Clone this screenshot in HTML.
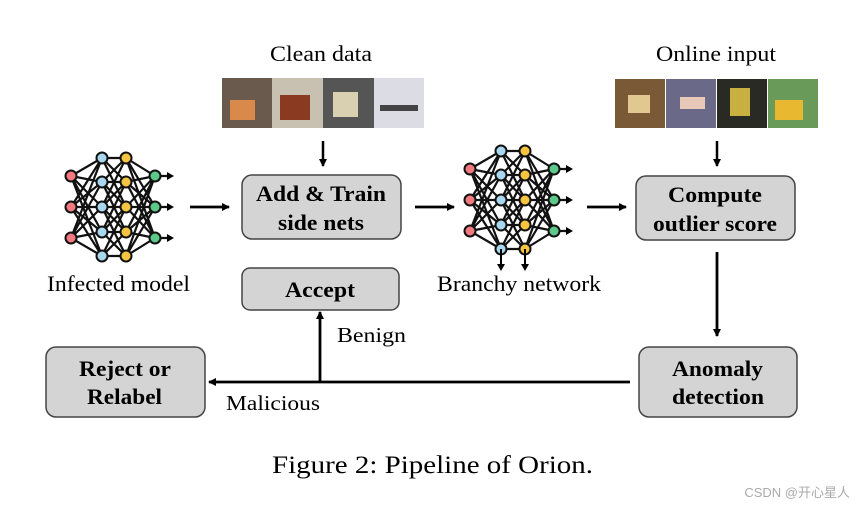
<!DOCTYPE html>
<html><head><meta charset="utf-8"><style>
body{margin:0;background:#fff;}
svg{display:block;font-family:"Liberation Serif",serif;}
</style></head><body>
<svg width="859" height="505" viewBox="0 0 859 505" xmlns="http://www.w3.org/2000/svg">
<defs>
<marker id="ah" markerWidth="8" markerHeight="8" refX="7" refY="4" orient="auto" markerUnits="userSpaceOnUse"><path d="M0,0 L8,4 L0,8 z" fill="#000"/></marker>
<g id="net">
<path stroke="#111" stroke-width="2.2" fill="none" d="
M0 -31L31 -49M0 -31L31 -25M0 -31L31 0M0 -31L31 25M0 -31L31 49
M0 0L31 -49M0 0L31 -25M0 0L31 0M0 0L31 25M0 0L31 49
M0 31L31 -49M0 31L31 -25M0 31L31 0M0 31L31 25M0 31L31 49
M31 -49L55 -49M31 -49L55 -25M31 -49L55 0
M31 -25L55 -49M31 -25L55 -25M31 -25L55 0M31 -25L55 25
M31 0L55 -49M31 0L55 -25M31 0L55 0M31 0L55 25M31 0L55 49
M31 25L55 -25M31 25L55 0M31 25L55 25M31 25L55 49
M31 49L55 0M31 49L55 25M31 49L55 49
M84 -31L55 -49M84 -31L55 -25M84 -31L55 0M84 -31L55 25M84 -31L55 49
M84 0L55 -49M84 0L55 -25M84 0L55 0M84 0L55 25M84 0L55 49
M84 31L55 -49M84 31L55 -25M84 31L55 0M84 31L55 25M84 31L55 49
M84 -31L98 -31M84 0L98 0M84 31L98 31"/>
<path fill="#000" d="M96 -35L103 -31L96 -27zM96 -4L103 0L96 4zM96 27L103 31L96 35z"/>
<g stroke="#111" stroke-width="2">
<circle cx="0" cy="-31" r="5.5" fill="#f27a80"/><circle cx="0" cy="0" r="5.5" fill="#f27a80"/><circle cx="0" cy="31" r="5.5" fill="#f27a80"/>
<circle cx="31" cy="-49" r="5.5" fill="#a9d8ee"/><circle cx="31" cy="-25" r="5.5" fill="#a9d8ee"/><circle cx="31" cy="0" r="5.5" fill="#a9d8ee"/><circle cx="31" cy="25" r="5.5" fill="#a9d8ee"/><circle cx="31" cy="49" r="5.5" fill="#a9d8ee"/>
<circle cx="55" cy="-49" r="5.5" fill="#f5c542"/><circle cx="55" cy="-25" r="5.5" fill="#f5c542"/><circle cx="55" cy="0" r="5.5" fill="#f5c542"/><circle cx="55" cy="25" r="5.5" fill="#f5c542"/><circle cx="55" cy="49" r="5.5" fill="#f5c542"/>
<circle cx="84" cy="-31" r="5.5" fill="#5cc98a"/><circle cx="84" cy="0" r="5.5" fill="#5cc98a"/><circle cx="84" cy="31" r="5.5" fill="#5cc98a"/>
</g>
</g>
</defs>

<text x="270" y="61" font-size="22" textLength="102" lengthAdjust="spacingAndGlyphs">Clean data</text>
<text x="656" y="61" font-size="22" textLength="120" lengthAdjust="spacingAndGlyphs">Online input</text>

<rect x="222" y="78" width="50" height="50" fill="#6a5a4e"/><rect x="230" y="100" width="25" height="20" fill="#d98a4a"/>
<rect x="272" y="78" width="51" height="50" fill="#c8c0b0"/><rect x="280" y="95" width="30" height="25" fill="#8a3a20"/>
<rect x="323" y="78" width="51" height="50" fill="#555"/><rect x="333" y="92" width="25" height="25" fill="#d8d0b0"/>
<rect x="374" y="78" width="50" height="50" fill="#dcdce4"/><rect x="380" y="105" width="38" height="6" fill="#444"/>
<rect x="615" y="79" width="50" height="49" fill="#7a5a36"/><rect x="628" y="95" width="22" height="18" fill="#e0c890"/>
<rect x="666" y="79" width="50" height="49" fill="#6a6a88"/><rect x="680" y="97" width="25" height="12" fill="#e8c8b8"/>
<rect x="717" y="79" width="50" height="49" fill="#2a2a24"/><rect x="730" y="88" width="20" height="28" fill="#c8b040"/>
<rect x="768" y="79" width="50" height="49" fill="#6a9a5a"/><rect x="775" y="100" width="28" height="20" fill="#e8b830"/>

<line x1="323" y1="141" x2="323" y2="166" stroke="#000" stroke-width="2.5" marker-end="url(#ah)"/>
<line x1="717" y1="141" x2="717" y2="166" stroke="#000" stroke-width="2.5" marker-end="url(#ah)"/>

<use href="#net" x="71" y="207"/>
<use href="#net" x="470" y="200"/>
<path d="M501 249V266M525 249V266" stroke="#000" stroke-width="2"/>
<path fill="#000" d="M497 264L501 271L505 264zM521 264L525 271L529 264z"/>

<text x="47" y="291" font-size="22" textLength="143" lengthAdjust="spacingAndGlyphs">Infected model</text>
<text x="437" y="291" font-size="22" textLength="164" lengthAdjust="spacingAndGlyphs">Branchy network</text>

<g stroke="#000" stroke-width="2.8" fill="none">
<line x1="190" y1="207" x2="229" y2="207" marker-end="url(#ah)"/>
<line x1="415" y1="207" x2="454" y2="207" marker-end="url(#ah)"/>
<line x1="587" y1="207" x2="626" y2="207" marker-end="url(#ah)"/>
<line x1="717" y1="252" x2="717" y2="336" marker-end="url(#ah)"/>
<line x1="630" y1="382" x2="209" y2="382" marker-end="url(#ah)"/>
<line x1="320" y1="382" x2="320" y2="312" marker-end="url(#ah)"/>
</g>

<g fill="#d4d4d4" stroke="#444" stroke-width="1.5">
<rect x="242" y="175" width="159" height="64" rx="10"/>
<rect x="636" y="176" width="159" height="64" rx="10"/>
<rect x="242" y="268" width="157" height="42" rx="8"/>
<rect x="46" y="347" width="159" height="70" rx="10"/>
<rect x="639" y="347" width="158" height="70" rx="10"/>
</g>
<g font-size="22" font-weight="bold" lengthAdjust="spacingAndGlyphs">
<text x="256" y="201" textLength="130" lengthAdjust="spacingAndGlyphs">Add &amp; Train</text>
<text x="278" y="230" textLength="86" lengthAdjust="spacingAndGlyphs">side nets</text>
<text x="668" y="202" textLength="94" lengthAdjust="spacingAndGlyphs">Compute</text>
<text x="653" y="231" textLength="124" lengthAdjust="spacingAndGlyphs">outlier score</text>
<text x="285" y="297" textLength="70" lengthAdjust="spacingAndGlyphs">Accept</text>
<text x="79" y="376" textLength="92" lengthAdjust="spacingAndGlyphs">Reject or</text>
<text x="87" y="404" textLength="75" lengthAdjust="spacingAndGlyphs">Relabel</text>
<text x="672" y="376" textLength="91" lengthAdjust="spacingAndGlyphs">Anomaly</text>
<text x="672" y="404" textLength="92" lengthAdjust="spacingAndGlyphs">detection</text>
</g>
<text x="337" y="342" font-size="21" textLength="69" lengthAdjust="spacingAndGlyphs">Benign</text>
<text x="226" y="410" font-size="21" textLength="94" lengthAdjust="spacingAndGlyphs">Malicious</text>
<text x="272" y="473" font-size="25" textLength="321" lengthAdjust="spacingAndGlyphs">Figure 2: Pipeline of Orion.</text>
<text x="850" y="497" font-size="13" fill="#aaa" text-anchor="end" font-family="Liberation Sans, Noto Sans CJK SC, sans-serif">CSDN @开心星人</text>
</svg>
</body></html>
